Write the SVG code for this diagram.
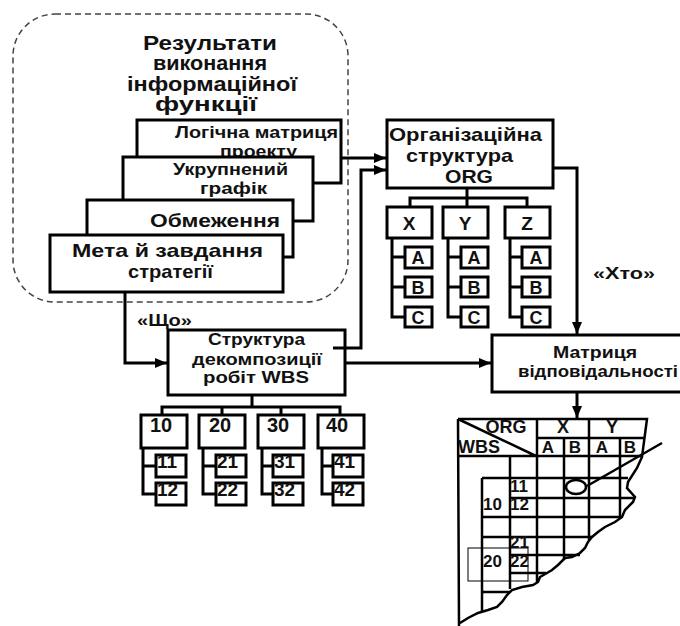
<svg xmlns="http://www.w3.org/2000/svg" width="680" height="626" viewBox="0 0 680 626">
  <defs>
    <marker id="arrow" markerUnits="userSpaceOnUse" markerWidth="13" markerHeight="10" refX="12" refY="5" orient="auto">
      <path d="M0,0 L12,5 L0,10 z" fill="#000"/>
    </marker>
    <style>
      .box { fill: #fff; stroke: #000; stroke-width: 3; }
      .ln { fill: none; stroke: #000; stroke-width: 3; }
      .grid { fill: none; stroke: #000; stroke-width: 2.5; }
      .thin { fill: none; stroke: #000; stroke-width: 1; }
      .dash { fill: none; stroke: #444; stroke-width: 1.5; stroke-dasharray: 6 4; }
      .t { font-family: "Liberation Sans", Arial, sans-serif; font-weight: bold; fill: #111; }
      .c { text-anchor: middle; }
      .s20 { font-size: 20px; }
      .s19 { font-size: 19px; }
      .s18 { font-size: 18px; }
      .s17 { font-size: 17px; }
      .s16 { font-size: 16px; }
    </style>
  </defs>

  <rect width="680" height="626" fill="#fff"/>

  <!-- information-function results group -->
  <g id="results">
    <rect class="dash" x="13" y="14" width="335" height="288" rx="42" ry="42"/>
    <text class="t s20" x="143" y="50" textLength="134" lengthAdjust="spacingAndGlyphs">Результати</text>
    <text class="t s20" x="153" y="70" textLength="114" lengthAdjust="spacingAndGlyphs">виконання</text>
    <text class="t s20" x="127" y="91" textLength="170" lengthAdjust="spacingAndGlyphs">інформаційної</text>
    <text class="t s20" x="155" y="111" textLength="102" lengthAdjust="spacingAndGlyphs">функції</text>
  </g>

  <g id="logic-matrix">
    <rect class="box" x="137" y="120" width="204" height="63"/>
    <text class="t s17" x="175" y="138" textLength="163" lengthAdjust="spacingAndGlyphs">Логічна матриця</text>
    <text class="t s17" x="220" y="157" textLength="77" lengthAdjust="spacingAndGlyphs">проекту</text>
  </g>
  <g id="schedule">
    <rect class="box" x="123" y="157" width="190" height="64"/>
    <text class="t s17" x="173" y="175" textLength="115" lengthAdjust="spacingAndGlyphs">Укрупнений</text>
    <text class="t s17" x="200" y="194" textLength="67" lengthAdjust="spacingAndGlyphs">графік</text>
  </g>
  <g id="constraints">
    <rect class="box" x="87" y="200" width="206" height="57"/>
    <text class="t s19" x="150" y="227" textLength="130" lengthAdjust="spacingAndGlyphs">Обмеження</text>
  </g>
  <g id="goals">
    <rect class="box" x="50" y="235" width="233" height="57"/>
    <text class="t s19" x="72" y="257" textLength="191" lengthAdjust="spacingAndGlyphs">Мета й завдання</text>
    <text class="t s19" x="128" y="278" textLength="85" lengthAdjust="spacingAndGlyphs">стратегії</text>
  </g>

  <!-- organisational structure -->
  <g id="org">
    <rect class="box" x="387" y="120" width="166" height="68"/>
    <text class="t s19" x="389" y="141" textLength="153" lengthAdjust="spacingAndGlyphs">Організаційна</text>
    <text class="t s19" x="406" y="162" textLength="107" lengthAdjust="spacingAndGlyphs">структура</text>
    <text class="t s18" x="445" y="183" textLength="48" lengthAdjust="spacingAndGlyphs">ORG</text>
  </g>
  <g id="org-tree">
    <path class="ln" d="M467,188 V198 M410,207 V198 H527 V207 M467,198 V207"/>
    <path class="ln" d="M392,238 V317 H405 M392,257 H405 M392,287 H405"/>
    <path class="ln" d="M448,238 V317 H461 M448,257 H461 M448,287 H461"/>
    <path class="ln" d="M510,238 V317 H522 M510,257 H522 M510,287 H522"/>
  </g>
  <g id="org-x">
    <rect class="box" x="387" y="207" width="45" height="31"/>
    <text class="t c s19" x="409" y="230">X</text>
  </g>
  <g id="org-y">
    <rect class="box" x="443" y="207" width="45" height="31"/>
    <text class="t c s19" x="465" y="230">Y</text>
  </g>
  <g id="org-z">
    <rect class="box" x="505" y="207" width="45" height="31"/>
    <text class="t c s19" x="527" y="230">Z</text>
  </g>
  <g id="org-x-a"><rect class="box" x="405" y="247" width="27" height="21"/><text class="t c s18" x="418" y="264">A</text></g>
  <g id="org-x-b"><rect class="box" x="405" y="277" width="27" height="20"/><text class="t c s18" x="418" y="294">B</text></g>
  <g id="org-x-c"><rect class="box" x="405" y="307" width="27" height="20"/><text class="t c s18" x="418" y="324">C</text></g>
  <g id="org-y-a"><rect class="box" x="461" y="247" width="27" height="21"/><text class="t c s18" x="474" y="264">A</text></g>
  <g id="org-y-b"><rect class="box" x="461" y="277" width="27" height="20"/><text class="t c s18" x="474" y="294">B</text></g>
  <g id="org-y-c"><rect class="box" x="461" y="307" width="27" height="20"/><text class="t c s18" x="474" y="324">C</text></g>
  <g id="org-z-a"><rect class="box" x="522" y="247" width="28" height="21"/><text class="t c s18" x="536" y="264">A</text></g>
  <g id="org-z-b"><rect class="box" x="522" y="277" width="28" height="20"/><text class="t c s18" x="536" y="294">B</text></g>
  <g id="org-z-c"><rect class="box" x="522" y="307" width="28" height="20"/><text class="t c s18" x="536" y="324">C</text></g>

  <!-- work breakdown structure -->
  <g id="wbs">
    <rect class="box" x="168" y="330" width="177" height="65"/>
    <text class="t s17" x="208" y="345" textLength="97" lengthAdjust="spacingAndGlyphs">Структура</text>
    <text class="t s17" x="192" y="365" textLength="130" lengthAdjust="spacingAndGlyphs">декомпозиції</text>
    <text class="t s17" x="203" y="383" textLength="106" lengthAdjust="spacingAndGlyphs">робіт WBS</text>
  </g>
  <g id="wbs-tree">
    <path class="ln" d="M252,395 V407 M162,415 V407 H340 V415 M222,407 V415 M281,407 V415"/>
    <path class="ln" d="M143,448 V494 H156 M143,466 H156"/>
    <path class="ln" d="M203,448 V494 H216 M203,466 H216"/>
    <path class="ln" d="M262,448 V494 H273 M262,466 H273"/>
    <path class="ln" d="M322,448 V494 H333 M322,466 H333"/>
  </g>
  <g id="wbs-10"><rect class="box" x="141" y="415" width="46" height="33"/><text class="t s20" x="150" y="432">10</text></g>
  <g id="wbs-20"><rect class="box" x="199" y="415" width="46" height="33"/><text class="t s20" x="209" y="432">20</text></g>
  <g id="wbs-30"><rect class="box" x="258" y="415" width="46" height="33"/><text class="t s20" x="267" y="432">30</text></g>
  <g id="wbs-40"><rect class="box" x="318" y="415" width="46" height="33"/><text class="t s20" x="326" y="432">40</text></g>
  <g id="wbs-11"><rect class="box" x="156" y="455" width="30" height="22"/><text class="t s19" x="157" y="468">11</text></g>
  <g id="wbs-12"><rect class="box" x="156" y="483" width="30" height="22"/><text class="t s19" x="157" y="496">12</text></g>
  <g id="wbs-21"><rect class="box" x="216" y="455" width="30" height="22"/><text class="t s19" x="217" y="468">21</text></g>
  <g id="wbs-22"><rect class="box" x="216" y="483" width="30" height="22"/><text class="t s19" x="217" y="496">22</text></g>
  <g id="wbs-31"><rect class="box" x="273" y="455" width="30" height="22"/><text class="t s19" x="274" y="468">31</text></g>
  <g id="wbs-32"><rect class="box" x="273" y="483" width="30" height="22"/><text class="t s19" x="274" y="496">32</text></g>
  <g id="wbs-41"><rect class="box" x="333" y="455" width="30" height="22"/><text class="t s19" x="334" y="468">41</text></g>
  <g id="wbs-42"><rect class="box" x="333" y="483" width="30" height="22"/><text class="t s19" x="334" y="496">42</text></g>

  <!-- responsibility matrix box -->
  <g id="resp">
    <rect class="box" x="492" y="335" width="192" height="57"/>
    <text class="t s17" x="553" y="358" textLength="84" lengthAdjust="spacingAndGlyphs">Матриця</text>
    <text class="t s17" x="518" y="377" textLength="160" lengthAdjust="spacingAndGlyphs">відповідальності</text>
  </g>

  <!-- connectors -->
  <g id="connectors">
    <path class="ln" d="M341,158 H386" marker-end="url(#arrow)"/>
    <path class="ln" d="M333,348 H361 V170 H386" marker-end="url(#arrow)"/>
    <path class="ln" d="M125,292 V363 H167" marker-end="url(#arrow)"/>
    <path class="ln" d="M345,363 H491" marker-end="url(#arrow)"/>
    <path class="ln" d="M553,168 H577 V334" marker-end="url(#arrow)"/>
    <path class="ln" d="M577,392 V418" marker-end="url(#arrow)"/>
    <text class="t s17" x="137" y="326" textLength="55" lengthAdjust="spacingAndGlyphs">«Що»</text>
    <text class="t s17" x="593" y="279" textLength="62" lengthAdjust="spacingAndGlyphs">«Хто»</text>
  </g>

  <!-- torn sample of the responsibility matrix -->
  <g id="matrix-sample">
    <path class="grid" d="M458,419 H647 L642,457 L637,468 L628,482 L627,488 L635,497 L633,502 L625,510 L622,517 L615,522 L605,527 L598,532 L592,537 L588,542 L585,548 L580,553 L572,557 L565,558 L558,565 L552,570 L547,573 L540,577 L538,582 L533,585 L522,587 L512,590 L507,595 L502,602 L497,607 L488,610 L478,613 L468,618 L460,623 M458,419 L459,626"/>
    <path class="grid" d="M458,419 L536,456 M458,456 H642 M537,419 V582 M537,438 H645 M589,419 V540 M564,438 V560 M620,438 V519"/>
    <path class="grid" d="M510,456 V589 M482,478 V611 M482,478 H628 M510,498 H634 M482,517 H622 M482,537 H592 M510,555 H580 M510,573 H546 M482,592 H510"/>
    <rect class="thin" x="468" y="548" width="60" height="33"/>
    <ellipse class="grid" cx="576" cy="487" rx="10" ry="7"/>
    <path class="grid" d="M587,486 L662,443"/>
    <text class="t c s18" x="506" y="433" font-weight="normal">ORG</text>
    <text class="t s18" x="458" y="453" font-weight="normal">WBS</text>
    <text class="t c s18" x="563" y="433" font-weight="normal">X</text>
    <text class="t c s18" x="612" y="433" font-weight="normal">Y</text>
    <text class="t c s17" x="548" y="453">A</text>
    <text class="t c s17" x="575" y="453">B</text>
    <text class="t c s17" x="602" y="453">A</text>
    <text class="t c s17" x="630" y="453">B</text>
    <text class="t s17" x="510" y="492">11</text>
    <text class="t s17" x="510" y="510">12</text>
    <text class="t s17" x="483" y="510">10</text>
    <text class="t s17" x="510" y="548">21</text>
    <text class="t s17" x="510" y="567">22</text>
    <text class="t s17" x="483" y="567">20</text>
  </g>
</svg>
